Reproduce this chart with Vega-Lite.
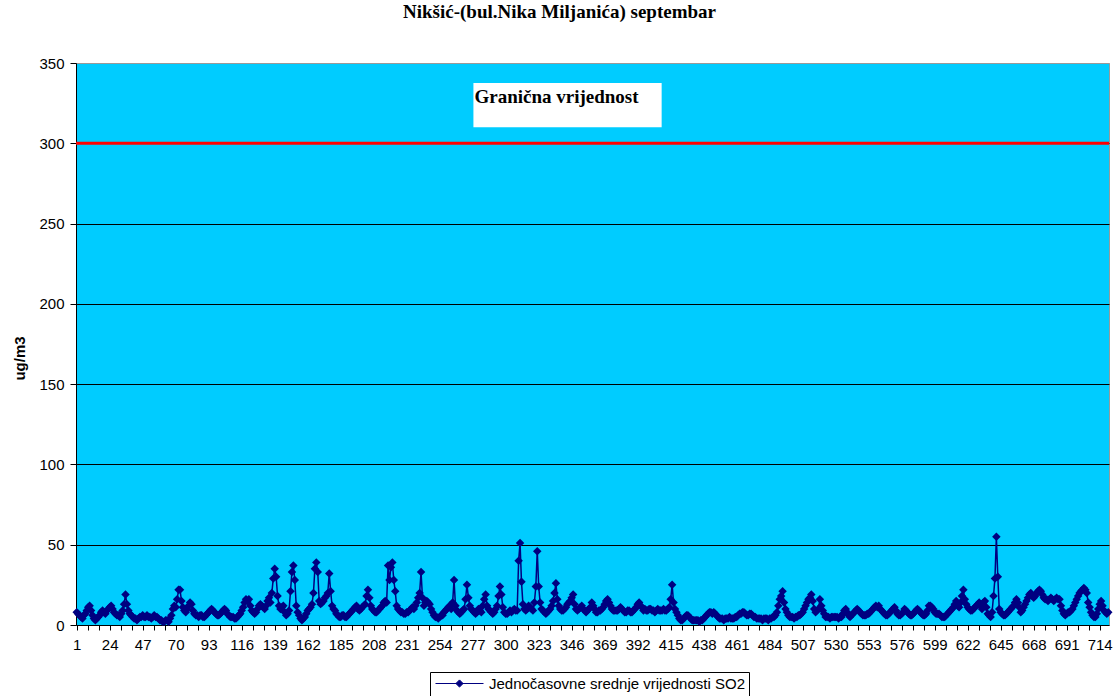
{
"$schema": "https://vega.github.io/schema/vega-lite/v6.json",
"width": 1033,
"height": 562,
"autosize": {"type": "none"},
"padding": {"left": 76, "top": 63, "right": 4, "bottom": 71},
"background": "white",
"title": {"text": "Nikšić-(bul.Nika Miljanića) septembar", "font": "Liberation Serif", "fontSize": 19, "fontWeight": "bold", "color": "black", "anchor": "middle", "dx": -33, "offset": 34},
"config": {"view": {"fill": "#00CCFF", "stroke": "#999999", "strokeWidth": 1}},
"datasets": {
"box": [{"x1": 277.5, "x2": 408.7, "y1": 310, "y2": 337.5, "label": "Granična vrijednost"}],
"limit": [{"lim": 300}],
"so2": [
{"h":1,"v":8},{"h":2,"v":7},{"h":3,"v":6},{"h":4,"v":5},{"h":5,"v":4},{"h":6,"v":6},{"h":7,"v":7},{"h":8,"v":9},{"h":9,"v":11},{"h":10,"v":12},{"h":11,"v":9},{"h":12,"v":6},{"h":13,"v":4},{"h":14,"v":3},{"h":15,"v":4},{"h":16,"v":5},{"h":17,"v":6},{"h":18,"v":8},{"h":19,"v":9},{"h":20,"v":8},{"h":21,"v":7},{"h":22,"v":9},{"h":23,"v":10},{"h":24,"v":11},
{"h":25,"v":12},{"h":26,"v":10},{"h":27,"v":8},{"h":28,"v":7},{"h":29,"v":6},{"h":30,"v":6},{"h":31,"v":5},{"h":32,"v":7},{"h":33,"v":9},{"h":34,"v":13},{"h":35,"v":19},{"h":36,"v":13},{"h":37,"v":9},{"h":38,"v":7},{"h":39,"v":6},{"h":40,"v":5},{"h":41,"v":4},{"h":42,"v":4},{"h":43,"v":3},{"h":44,"v":4},{"h":45,"v":5},{"h":46,"v":5},{"h":47,"v":6},{"h":48,"v":5},
{"h":49,"v":5},{"h":50,"v":6},{"h":51,"v":5},{"h":52,"v":5},{"h":53,"v":4},{"h":54,"v":5},{"h":55,"v":6},{"h":56,"v":5},{"h":57,"v":5},{"h":58,"v":4},{"h":59,"v":3},{"h":60,"v":3},{"h":61,"v":2},{"h":62,"v":2},{"h":63,"v":3},{"h":64,"v":3},{"h":65,"v":2},{"h":66,"v":4},{"h":67,"v":6},{"h":68,"v":10},{"h":69,"v":12},{"h":70,"v":11},{"h":71,"v":16},{"h":72,"v":22},
{"h":73,"v":22},{"h":74,"v":15},{"h":75,"v":11},{"h":76,"v":9},{"h":77,"v":8},{"h":78,"v":10},{"h":79,"v":12},{"h":80,"v":14},{"h":81,"v":13},{"h":82,"v":9},{"h":83,"v":7},{"h":84,"v":6},{"h":85,"v":6},{"h":86,"v":5},{"h":87,"v":6},{"h":88,"v":6},{"h":89,"v":5},{"h":90,"v":5},{"h":91,"v":6},{"h":92,"v":7},{"h":93,"v":8},{"h":94,"v":9},{"h":95,"v":10},{"h":96,"v":9},
{"h":97,"v":8},{"h":98,"v":7},{"h":99,"v":6},{"h":100,"v":6},{"h":101,"v":7},{"h":102,"v":8},{"h":103,"v":9},{"h":104,"v":10},{"h":105,"v":9},{"h":106,"v":7},{"h":107,"v":6},{"h":108,"v":5},{"h":109,"v":5},{"h":110,"v":5},{"h":111,"v":4},{"h":112,"v":4},{"h":113,"v":5},{"h":114,"v":6},{"h":115,"v":7},{"h":116,"v":9},{"h":117,"v":11},{"h":118,"v":14},{"h":119,"v":16},{"h":120,"v":15},
{"h":121,"v":16},{"h":122,"v":12},{"h":123,"v":9},{"h":124,"v":8},{"h":125,"v":7},{"h":126,"v":8},{"h":127,"v":10},{"h":128,"v":12},{"h":129,"v":13},{"h":130,"v":12},{"h":131,"v":11},{"h":132,"v":10},{"h":133,"v":12},{"h":134,"v":15},{"h":135,"v":17},{"h":136,"v":14},{"h":137,"v":20},{"h":138,"v":29},{"h":139,"v":35},{"h":140,"v":30},{"h":141,"v":18},{"h":142,"v":12},{"h":143,"v":10},{"h":144,"v":11},
{"h":145,"v":12},{"h":146,"v":8},{"h":147,"v":6},{"h":148,"v":7},{"h":149,"v":9},{"h":150,"v":21},{"h":151,"v":33},{"h":152,"v":37},{"h":153,"v":28},{"h":154,"v":12},{"h":155,"v":8},{"h":156,"v":6},{"h":157,"v":4},{"h":158,"v":3},{"h":159,"v":4},{"h":160,"v":5},{"h":161,"v":7},{"h":162,"v":9},{"h":163,"v":10},{"h":164,"v":11},{"h":165,"v":13},{"h":166,"v":20},{"h":167,"v":35},{"h":168,"v":39},
{"h":169,"v":33},{"h":170,"v":15},{"h":171,"v":13},{"h":172,"v":14},{"h":173,"v":15},{"h":174,"v":17},{"h":175,"v":18},{"h":176,"v":20},{"h":177,"v":32},{"h":178,"v":21},{"h":179,"v":12},{"h":180,"v":10},{"h":181,"v":9},{"h":182,"v":7},{"h":183,"v":6},{"h":184,"v":5},{"h":185,"v":5},{"h":186,"v":6},{"h":187,"v":6},{"h":188,"v":5},{"h":189,"v":5},{"h":190,"v":6},{"h":191,"v":7},{"h":192,"v":8},
{"h":193,"v":9},{"h":194,"v":10},{"h":195,"v":11},{"h":196,"v":12},{"h":197,"v":10},{"h":198,"v":9},{"h":199,"v":10},{"h":200,"v":11},{"h":201,"v":12},{"h":202,"v":13},{"h":203,"v":18},{"h":204,"v":22},{"h":205,"v":17},{"h":206,"v":12},{"h":207,"v":10},{"h":208,"v":9},{"h":209,"v":8},{"h":210,"v":8},{"h":211,"v":9},{"h":212,"v":10},{"h":213,"v":11},{"h":214,"v":12},{"h":215,"v":14},{"h":216,"v":15},
{"h":217,"v":14},{"h":218,"v":37},{"h":219,"v":28},{"h":220,"v":36},{"h":221,"v":39},{"h":222,"v":28},{"h":223,"v":21},{"h":224,"v":12},{"h":225,"v":10},{"h":226,"v":9},{"h":227,"v":8},{"h":228,"v":8},{"h":229,"v":7},{"h":230,"v":7},{"h":231,"v":8},{"h":232,"v":8},{"h":233,"v":9},{"h":234,"v":10},{"h":235,"v":11},{"h":236,"v":10},{"h":237,"v":12},{"h":238,"v":14},{"h":239,"v":17},{"h":240,"v":20},
{"h":241,"v":33},{"h":242,"v":17},{"h":243,"v":12},{"h":244,"v":14},{"h":245,"v":15},{"h":246,"v":14},{"h":247,"v":13},{"h":248,"v":10},{"h":249,"v":8},{"h":250,"v":6},{"h":251,"v":5},{"h":252,"v":5},{"h":253,"v":4},{"h":254,"v":5},{"h":255,"v":6},{"h":256,"v":6},{"h":257,"v":8},{"h":258,"v":9},{"h":259,"v":10},{"h":260,"v":11},{"h":261,"v":12},{"h":262,"v":10},{"h":263,"v":14},{"h":264,"v":28},
{"h":265,"v":12},{"h":266,"v":9},{"h":267,"v":8},{"h":268,"v":7},{"h":269,"v":8},{"h":270,"v":9},{"h":271,"v":10},{"h":272,"v":16},{"h":273,"v":25},{"h":274,"v":17},{"h":275,"v":12},{"h":276,"v":10},{"h":277,"v":9},{"h":278,"v":8},{"h":279,"v":7},{"h":280,"v":8},{"h":281,"v":10},{"h":282,"v":9},{"h":283,"v":8},{"h":284,"v":12},{"h":285,"v":16},{"h":286,"v":19},{"h":287,"v":12},{"h":288,"v":10},
{"h":289,"v":9},{"h":290,"v":8},{"h":291,"v":7},{"h":292,"v":8},{"h":293,"v":10},{"h":294,"v":12},{"h":295,"v":18},{"h":296,"v":24},{"h":297,"v":19},{"h":298,"v":11},{"h":299,"v":8},{"h":300,"v":7},{"h":301,"v":7},{"h":302,"v":8},{"h":303,"v":9},{"h":304,"v":8},{"h":305,"v":9},{"h":306,"v":10},{"h":307,"v":9},{"h":308,"v":9},{"h":309,"v":40},{"h":310,"v":51},{"h":311,"v":27},{"h":312,"v":13},
{"h":313,"v":10},{"h":314,"v":9},{"h":315,"v":10},{"h":316,"v":12},{"h":317,"v":11},{"h":318,"v":10},{"h":319,"v":9},{"h":320,"v":14},{"h":321,"v":24},{"h":322,"v":46},{"h":323,"v":24},{"h":324,"v":14},{"h":325,"v":10},{"h":326,"v":9},{"h":327,"v":8},{"h":328,"v":7},{"h":329,"v":8},{"h":330,"v":9},{"h":331,"v":10},{"h":332,"v":12},{"h":333,"v":15},{"h":334,"v":20},{"h":335,"v":26},{"h":336,"v":16},
{"h":337,"v":12},{"h":338,"v":10},{"h":339,"v":9},{"h":340,"v":9},{"h":341,"v":10},{"h":342,"v":11},{"h":343,"v":13},{"h":344,"v":14},{"h":345,"v":15},{"h":346,"v":17},{"h":347,"v":19},{"h":348,"v":13},{"h":349,"v":10},{"h":350,"v":9},{"h":351,"v":10},{"h":352,"v":11},{"h":353,"v":12},{"h":354,"v":10},{"h":355,"v":9},{"h":356,"v":8},{"h":357,"v":9},{"h":358,"v":10},{"h":359,"v":11},{"h":360,"v":14},
{"h":361,"v":12},{"h":362,"v":10},{"h":363,"v":8},{"h":364,"v":8},{"h":365,"v":9},{"h":366,"v":9},{"h":367,"v":10},{"h":368,"v":11},{"h":369,"v":13},{"h":370,"v":15},{"h":371,"v":16},{"h":372,"v":14},{"h":373,"v":12},{"h":374,"v":10},{"h":375,"v":9},{"h":376,"v":9},{"h":377,"v":9},{"h":378,"v":9},{"h":379,"v":10},{"h":380,"v":11},{"h":381,"v":10},{"h":382,"v":9},{"h":383,"v":8},{"h":384,"v":8},
{"h":385,"v":9},{"h":386,"v":9},{"h":387,"v":8},{"h":388,"v":8},{"h":389,"v":9},{"h":390,"v":10},{"h":391,"v":11},{"h":392,"v":13},{"h":393,"v":14},{"h":394,"v":12},{"h":395,"v":11},{"h":396,"v":9},{"h":397,"v":10},{"h":398,"v":9},{"h":399,"v":9},{"h":400,"v":10},{"h":401,"v":10},{"h":402,"v":9},{"h":403,"v":9},{"h":404,"v":8},{"h":405,"v":9},{"h":406,"v":10},{"h":407,"v":9},{"h":408,"v":9},
{"h":409,"v":9},{"h":410,"v":10},{"h":411,"v":9},{"h":412,"v":9},{"h":413,"v":10},{"h":414,"v":11},{"h":415,"v":16},{"h":416,"v":25},{"h":417,"v":14},{"h":418,"v":10},{"h":419,"v":8},{"h":420,"v":6},{"h":421,"v":4},{"h":422,"v":3},{"h":423,"v":3},{"h":424,"v":4},{"h":425,"v":5},{"h":426,"v":6},{"h":427,"v":6},{"h":428,"v":5},{"h":429,"v":4},{"h":430,"v":3},{"h":431,"v":3},{"h":432,"v":3},
{"h":433,"v":3},{"h":434,"v":3},{"h":435,"v":2},{"h":436,"v":3},{"h":437,"v":3},{"h":438,"v":4},{"h":439,"v":5},{"h":440,"v":6},{"h":441,"v":7},{"h":442,"v":8},{"h":443,"v":8},{"h":444,"v":7},{"h":445,"v":8},{"h":446,"v":7},{"h":447,"v":6},{"h":448,"v":5},{"h":449,"v":4},{"h":450,"v":4},{"h":451,"v":4},{"h":452,"v":3},{"h":453,"v":4},{"h":454,"v":4},{"h":455,"v":4},{"h":456,"v":5},
{"h":457,"v":4},{"h":458,"v":4},{"h":459,"v":4},{"h":460,"v":5},{"h":461,"v":5},{"h":462,"v":6},{"h":463,"v":7},{"h":464,"v":7},{"h":465,"v":8},{"h":466,"v":8},{"h":467,"v":7},{"h":468,"v":6},{"h":469,"v":6},{"h":470,"v":7},{"h":471,"v":7},{"h":472,"v":6},{"h":473,"v":5},{"h":474,"v":5},{"h":475,"v":4},{"h":476,"v":4},{"h":477,"v":4},{"h":478,"v":4},{"h":479,"v":3},{"h":480,"v":4},
{"h":481,"v":4},{"h":482,"v":4},{"h":483,"v":3},{"h":484,"v":4},{"h":485,"v":4},{"h":486,"v":5},{"h":487,"v":5},{"h":488,"v":6},{"h":489,"v":8},{"h":490,"v":12},{"h":491,"v":16},{"h":492,"v":18},{"h":493,"v":21},{"h":494,"v":14},{"h":495,"v":10},{"h":496,"v":8},{"h":497,"v":6},{"h":498,"v":5},{"h":499,"v":5},{"h":500,"v":5},{"h":501,"v":4},{"h":502,"v":5},{"h":503,"v":5},{"h":504,"v":6},
{"h":505,"v":6},{"h":506,"v":7},{"h":507,"v":8},{"h":508,"v":10},{"h":509,"v":12},{"h":510,"v":14},{"h":511,"v":16},{"h":512,"v":17},{"h":513,"v":19},{"h":514,"v":15},{"h":515,"v":10},{"h":516,"v":8},{"h":517,"v":9},{"h":518,"v":10},{"h":519,"v":16},{"h":520,"v":12},{"h":521,"v":9},{"h":522,"v":7},{"h":523,"v":5},{"h":524,"v":5},{"h":525,"v":5},{"h":526,"v":4},{"h":527,"v":5},{"h":528,"v":5},
{"h":529,"v":5},{"h":530,"v":5},{"h":531,"v":5},{"h":532,"v":4},{"h":533,"v":5},{"h":534,"v":5},{"h":535,"v":7},{"h":536,"v":9},{"h":537,"v":10},{"h":538,"v":8},{"h":539,"v":6},{"h":540,"v":5},{"h":541,"v":6},{"h":542,"v":7},{"h":543,"v":8},{"h":544,"v":9},{"h":545,"v":10},{"h":546,"v":9},{"h":547,"v":8},{"h":548,"v":7},{"h":549,"v":6},{"h":550,"v":6},{"h":551,"v":6},{"h":552,"v":7},
{"h":553,"v":7},{"h":554,"v":8},{"h":555,"v":9},{"h":556,"v":10},{"h":557,"v":11},{"h":558,"v":12},{"h":559,"v":11},{"h":560,"v":12},{"h":561,"v":10},{"h":562,"v":9},{"h":563,"v":8},{"h":564,"v":7},{"h":565,"v":6},{"h":566,"v":6},{"h":567,"v":7},{"h":568,"v":8},{"h":569,"v":9},{"h":570,"v":10},{"h":571,"v":11},{"h":572,"v":9},{"h":573,"v":7},{"h":574,"v":6},{"h":575,"v":6},{"h":576,"v":7},
{"h":577,"v":8},{"h":578,"v":10},{"h":579,"v":9},{"h":580,"v":8},{"h":581,"v":7},{"h":582,"v":6},{"h":583,"v":6},{"h":584,"v":7},{"h":585,"v":8},{"h":586,"v":9},{"h":587,"v":10},{"h":588,"v":9},{"h":589,"v":8},{"h":590,"v":7},{"h":591,"v":6},{"h":592,"v":6},{"h":593,"v":7},{"h":594,"v":9},{"h":595,"v":12},{"h":596,"v":12},{"h":597,"v":11},{"h":598,"v":10},{"h":599,"v":8},{"h":600,"v":7},
{"h":601,"v":7},{"h":602,"v":7},{"h":603,"v":6},{"h":604,"v":5},{"h":605,"v":5},{"h":606,"v":5},{"h":607,"v":6},{"h":608,"v":7},{"h":609,"v":8},{"h":610,"v":9},{"h":611,"v":10},{"h":612,"v":11},{"h":613,"v":13},{"h":614,"v":15},{"h":615,"v":12},{"h":616,"v":11},{"h":617,"v":14},{"h":618,"v":18},{"h":619,"v":22},{"h":620,"v":16},{"h":621,"v":13},{"h":622,"v":11},{"h":623,"v":10},{"h":624,"v":9},
{"h":625,"v":9},{"h":626,"v":10},{"h":627,"v":11},{"h":628,"v":12},{"h":629,"v":13},{"h":630,"v":14},{"h":631,"v":12},{"h":632,"v":10},{"h":633,"v":14},{"h":634,"v":15},{"h":635,"v":11},{"h":636,"v":7},{"h":637,"v":6},{"h":638,"v":5},{"h":639,"v":8},{"h":640,"v":18},{"h":641,"v":29},{"h":642,"v":55},{"h":643,"v":30},{"h":644,"v":10},{"h":645,"v":8},{"h":646,"v":7},{"h":647,"v":6},{"h":648,"v":6},
{"h":649,"v":7},{"h":650,"v":8},{"h":651,"v":9},{"h":652,"v":10},{"h":653,"v":11},{"h":654,"v":12},{"h":655,"v":14},{"h":656,"v":16},{"h":657,"v":14},{"h":658,"v":11},{"h":659,"v":8},{"h":660,"v":9},{"h":661,"v":11},{"h":662,"v":13},{"h":663,"v":15},{"h":664,"v":17},{"h":665,"v":19},{"h":666,"v":20},{"h":667,"v":18},{"h":668,"v":17},{"h":669,"v":18},{"h":670,"v":20},{"h":671,"v":21},{"h":672,"v":22},
{"h":673,"v":21},{"h":674,"v":19},{"h":675,"v":17},{"h":676,"v":16},{"h":677,"v":16},{"h":678,"v":15},{"h":679,"v":16},{"h":680,"v":17},{"h":681,"v":16},{"h":682,"v":15},{"h":683,"v":16},{"h":684,"v":17},{"h":685,"v":16},{"h":686,"v":16},{"h":687,"v":12},{"h":688,"v":9},{"h":689,"v":7},{"h":690,"v":6},{"h":691,"v":7},{"h":692,"v":8},{"h":693,"v":8},{"h":694,"v":9},{"h":695,"v":10},{"h":696,"v":12},
{"h":697,"v":14},{"h":698,"v":16},{"h":699,"v":18},{"h":700,"v":20},{"h":701,"v":21},{"h":702,"v":22},{"h":703,"v":23},{"h":704,"v":22},{"h":705,"v":20},{"h":706,"v":14},{"h":707,"v":11},{"h":708,"v":8},{"h":709,"v":6},{"h":710,"v":5},{"h":711,"v":5},{"h":712,"v":7},{"h":713,"v":10},{"h":714,"v":13},{"h":715,"v":15},{"h":716,"v":12},{"h":717,"v":9},{"h":718,"v":8},{"h":719,"v":7},{"h":720,"v":8}
]
},
"layer": [
{
"data": {"name": "box"},
"mark": {"type": "rect", "fill": "white", "stroke": null},
"encoding": {
"x": {"field": "x1", "type": "quantitative", "scale": {"domain": [0.5, 720.5], "nice": false, "zero": false},
"axis": {"title": null, "grid": false, "domainColor": "black", "domainWidth": 1, "tickColor": "black", "tickSize": 5, "tickWidth": 1, "tickCount": 1000,
"values": [1,8.667,16.333,24,31.667,39.333,47,54.667,62.333,70,77.667,85.333,93,100.667,108.333,116,123.667,131.333,139,146.667,154.333,162,169.667,177.333,185,192.667,200.333,208,215.667,223.333,231,238.667,246.333,254,261.667,269.333,277,284.667,292.333,300,307.667,315.333,323,330.667,338.333,346,353.667,361.333,369,376.667,384.333,392,399.667,407.333,415,422.667,430.333,438,445.667,453.333,461,468.667,476.333,484,491.667,499.333,507,514.667,522.333,530,537.667,545.333,553,560.667,568.333,576,583.667,591.333,599,606.667,614.333,622,629.667,637.333,645,652.667,660.333,668,675.667,683.333,691,698.667,706.333,714],
"labelExpr": "(round(datum.value)-1)%23==0 && abs(datum.value-round(datum.value))<0.01 ? ''+round(datum.value) : ''",
"labelFont": "Liberation Sans", "labelFontSize": 15, "labelColor": "black", "labelPadding": 7, "labelOverlap": false, "labelFlush": false, "labelBound": false}},
"x2": {"field": "x2"},
"y": {"field": "y1", "type": "quantitative", "scale": {"domain": [0, 350], "nice": false},
"axis": {"title": "ug/m3", "titleFont": "Liberation Sans", "titleFontSize": 15, "titleFontWeight": "bold", "titleColor": "black", "titlePadding": 11, "titleY": 295,
"values": [0,50,100,150,200,250,300,350], "grid": true,
"gridColor": {"condition": {"test": "datum.value == 350 || datum.value == 0", "value": "#999999"}, "value": "black"},
"gridWidth": 1, "domainColor": "black", "tickColor": "black", "tickSize": 6,
"labelFont": "Liberation Sans", "labelFontSize": 15, "labelColor": "black", "labelPadding": 6}},
"y2": {"field": "y2"}
}
},
{
"data": {"name": "box"},
"mark": {"type": "text", "align": "left", "baseline": "alphabetic", "font": "Liberation Serif", "fontSize": 19, "fontWeight": "bold", "color": "black", "dx": 1},
"encoding": {
"x": {"field": "x1", "type": "quantitative"},
"y": {"datum": 325, "type": "quantitative"},
"text": {"field": "label"}
}
},
{
"data": {"name": "limit"},
"mark": {"type": "rule", "color": "#FF0000", "strokeWidth": 3},
"encoding": {
"y": {"field": "lim", "type": "quantitative"}
}
},
{
"data": {"name": "so2"},
"mark": {"type": "line", "strokeWidth": 1.5, "point": {"shape": "diamond", "size": 72, "filled": true}},
"encoding": {
"x": {"field": "h", "type": "quantitative"},
"y": {"field": "v", "type": "quantitative"},
"color": {"datum": "Jednočasovne srednje vrijednosti SO2", "type": "nominal", "scale": {"range": ["#000080"]},
"legend": {"title": null, "orient": "none", "legendX": 354, "legendY": 609, "labelLimit": 500,
"symbolType": "M-4,0L4,0M-0.6,0L0,-0.6L0.6,0L0,0.6Z", "symbolSize": 144, "symbolStrokeWidth": 1, "symbolFillColor": "#000080", "symbolStrokeColor": "#000080", "symbolOffset": 18, "labelOffset": 22,
"labelFont": "Liberation Sans", "labelFontSize": 15, "labelColor": "black", "strokeColor": "black", "fillColor": "white", "padding": 4}}
}
}
]
}
